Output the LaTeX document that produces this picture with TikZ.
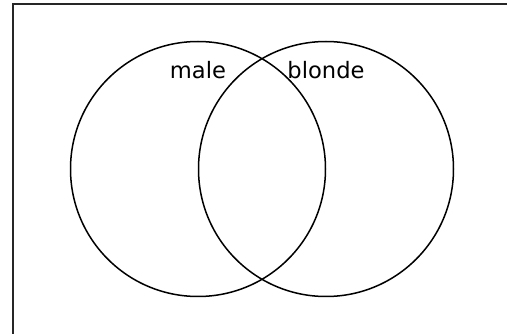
\documentclass[tikz,border=0pt]{standalone}
\usepackage{fontspec}
\setmainfont{DejaVu Sans}
\tikzset{
  setcircle/.style={circle,draw,line width=1.5pt,minimum size=255pt,inner sep=0pt},
  setlabel/.style={anchor=base,inner sep=0pt,font=\fontsize{22.6}{26}\selectfont}
}
\begin{document}
\begin{tikzpicture}[x=1pt,y=-1pt]
\useasboundingbox (0,0) rectangle (507,334);
\draw[line width=2pt,black!85] (13,334) -- (13,4) -- (507,4);
\node[setcircle] (male) at (198,169) {};
\node[setcircle] (blonde) at (326,169) {};
\node[setlabel] (malelabel) at (198,79) {male};
\node[setlabel] (blondelabel) at (326,79) {blonde};
\end{tikzpicture}
\end{document}
